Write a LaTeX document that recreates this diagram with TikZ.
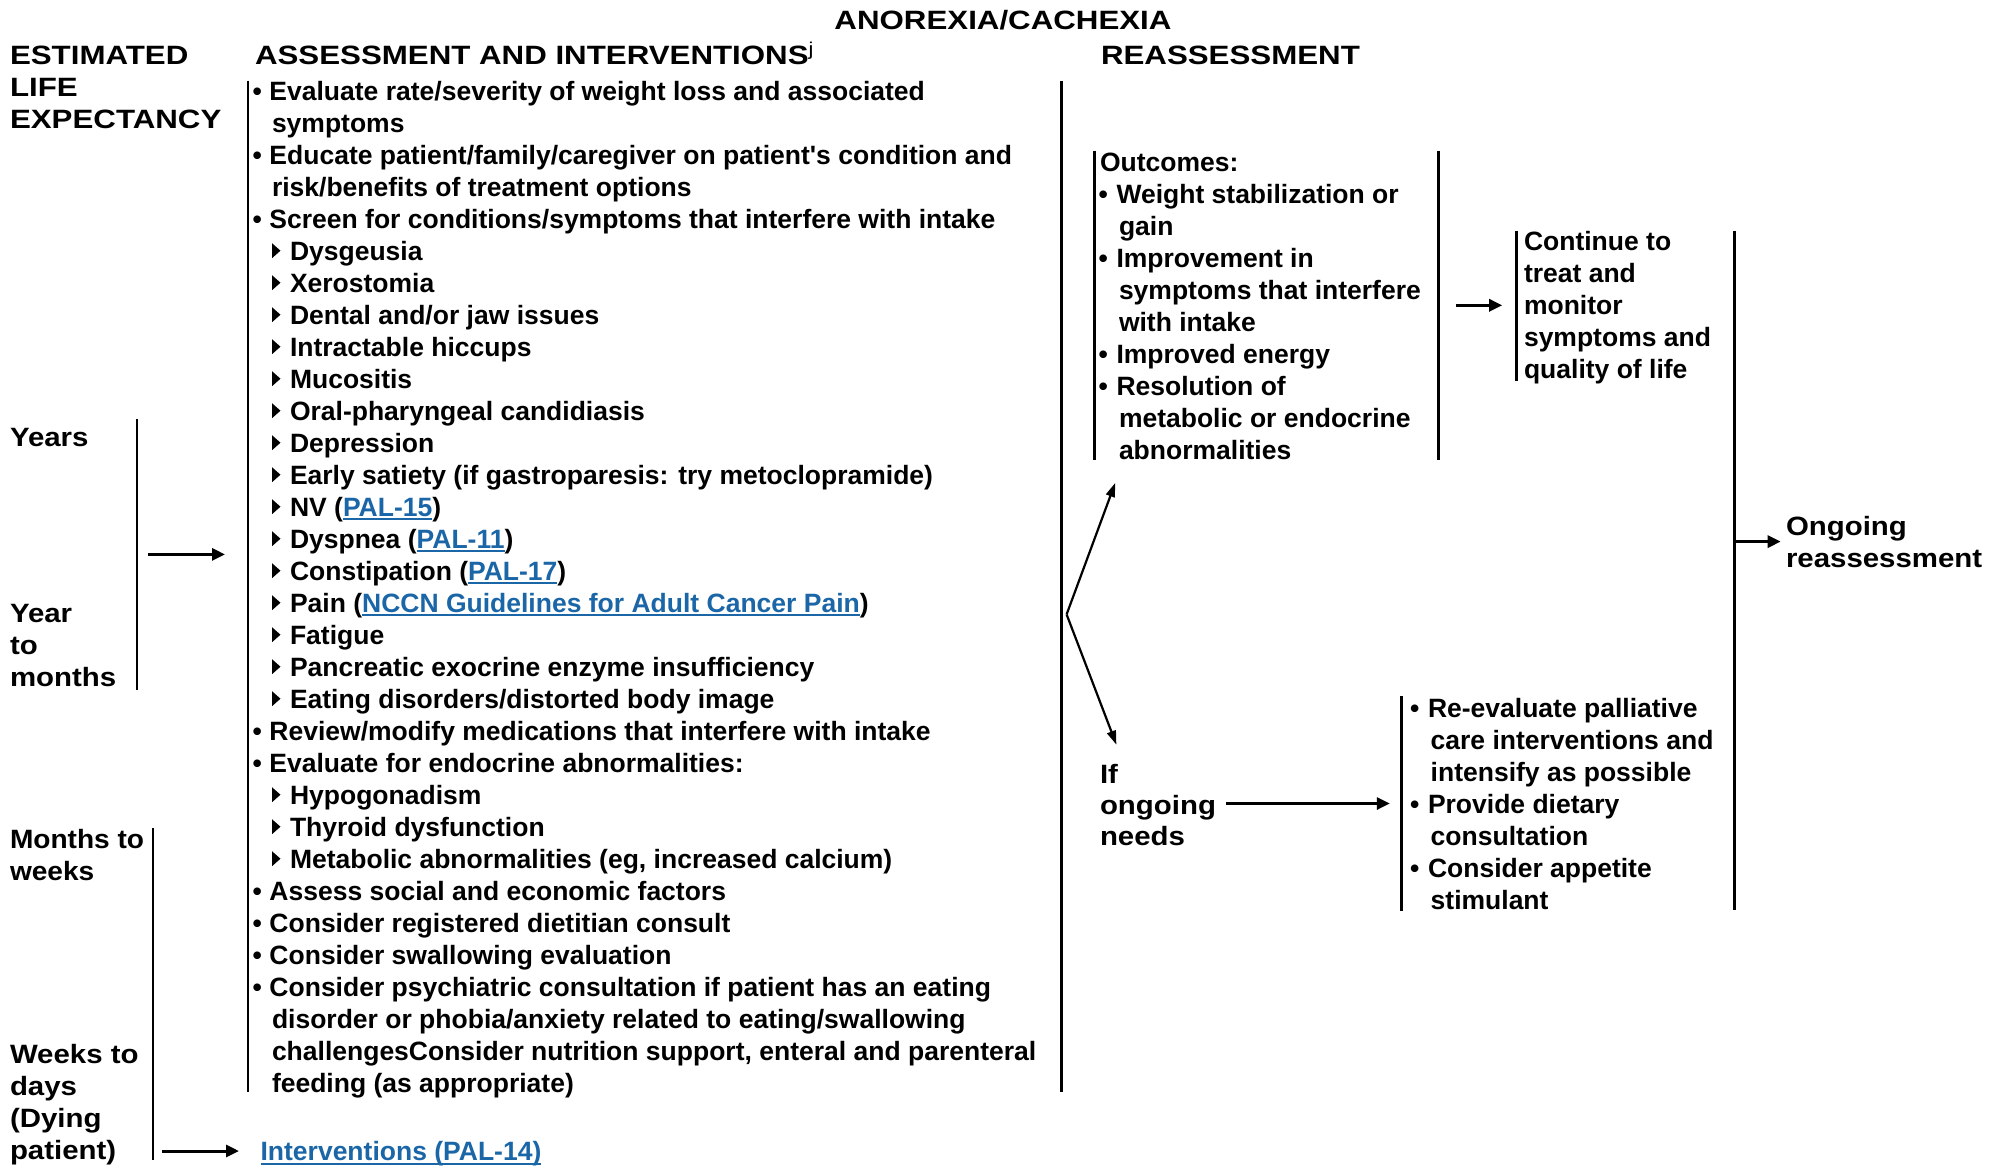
\documentclass[tikz,border=0pt]{standalone}
\usepackage{fontspec}
\setmainfont{Liberation Sans}[Ligatures=TeXOff]
\newfontfamily\hdfont{Liberation Sans}[FakeStretch=1.18]
\newfontfamily\lbfont{Liberation Sans}[FakeStretch=1.11]
\newfontfamily\lbfontn{Liberation Sans}[FakeStretch=1.06]
\usetikzlibrary{arrows.meta}
\definecolor{linkblue}{RGB}{26,102,166}
\newcommand\lnk[1]{{\color{linkblue}\setbox0\hbox{#1}\rlap{\rule[-4pt]{\wd0}{2pt}}\box0}}
\tikzset{
  txt/.style={anchor=base west, inner sep=0pt, outer sep=0pt, font=\fontsize{26.5}{32}\selectfont\bfseries},
  hdr/.style={txt, font=\fontsize{26.5}{32}\selectfont\hdfont\bfseries},
  lbl/.style={txt, font=\fontsize{26.5}{32}\selectfont\lbfont\bfseries},
  lbln/.style={txt, font=\fontsize{26.5}{32}\selectfont\lbfontn\bfseries},
  brk/.style={line width=2.5pt},
  arr/.style={line width=3pt, -{Triangle[length=13pt,width=12pt]}},
  sarr/.style={line width=2.2pt, -{Triangle[length=14pt,width=9pt]}},
}
% middle column lines
\newcommand\Lb[2]{\pgfmathsetmacro\yy{100.2+32*(#1-1)}\node[txt] (m#1) at (252.5,\yy) {\makebox[17pt][l]{•}#2};}
\newcommand\Lc[2]{\pgfmathsetmacro\yy{100.2+32*(#1-1)}\node[txt] (m#1) at (272,\yy) {#2};}
\newcommand\Lt[2]{\pgfmathsetmacro\yy{100.2+32*(#1-1)}\node[txt] (m#1) at (290,\yy) {#2};
  \fill (272,\yy-17) -- (272,\yy-2) -- (280.5,\yy-9.5) -- cycle;}
\newcommand\bul[4]{\node[txt] (#1) at (#2,#3) {\makebox[18pt][l]{•}#4};}
\begin{document}
\begin{tikzpicture}[x=1pt,y=-1pt]
\useasboundingbox (0,0) rectangle (2003,1167);
% title and headers
\node[hdr, anchor=base] (title) at (1003,29) {ANOREXIA/CACHEXIA};
\node[hdr] (h1a) at (10,64.5) {ESTIMATED};
\node[hdr] (h1b) at (10,96.5) {LIFE};
\node[hdr] (h1c) at (10,128.5) {EXPECTANCY};
\node[hdr] (h2) at (255,64.5) {ASSESSMENT AND INTERVENTIONS\textsuperscript{\mdseries j}};
\node[hdr] (h3) at (1101,64.5) {REASSESSMENT};
% life expectancy labels
\node[lbl] (y1) at (10,446.5) {Years};
\node[lbl] (y2) at (10,622.7) {Year};
\node[lbl] (y3) at (10,654.7) {to};
\node[lbl] (y4) at (10,686.7) {months};
\node[lbln] (w1) at (10,848.8) {Months to};
\node[lbln] (w2) at (10,880.8) {weeks};
\node[lbl] (d1) at (10,1063.4) {Weeks to};
\node[lbl] (d2) at (10,1095.4) {days};
\node[lbl] (d3) at (10,1127.4) {(Dying};
\node[lbl] (d4) at (10,1159.4) {patient)};
\draw[brk] (137,419) -- (137,690);
\draw[brk] (153,828) -- (153,1160);
\coordinate (a1s) at (148,554.4); \coordinate (a1e) at (225,554.4);
\draw[arr] (a1s) -- (a1e);
\node[txt] (pal14) at (260.6,1160.5) {\lnk{Interventions (PAL-14)}};
\coordinate (a2s) at (162,1151); \coordinate (a2e) at (239,1151);
\draw[arr] (a2s) -- (a2e);
% assessment and interventions
\draw[brk] (248,80.5) -- (248,1092);
\draw[brk] (1061.5,80.5) -- (1061.5,1092);
\Lb{1}{Evaluate rate/severity of weight loss and associated}
\Lc{2}{symptoms}
\Lb{3}{Educate patient/family/caregiver on patient's condition and}
\Lc{4}{risk/benefits of treatment options}
\Lb{5}{Screen for conditions/symptoms that interfere with intake}
\Lt{6}{Dysgeusia}
\Lt{7}{Xerostomia}
\Lt{8}{Dental and/or jaw issues}
\Lt{9}{Intractable hiccups}
\Lt{10}{Mucositis}
\Lt{11}{Oral-pharyngeal candidiasis}
\Lt{12}{Depression}
\Lt{13}{Early satiety (if gastroparesis: try metoclopramide)}
\Lt{14}{NV (\lnk{PAL-15})}
\Lt{15}{Dyspnea (\lnk{PAL-11})}
\Lt{16}{Constipation (\lnk{PAL-17})}
\Lt{17}{Pain (\lnk{NCCN Guidelines for Adult Cancer Pain})}
\Lt{18}{Fatigue}
\Lt{19}{Pancreatic exocrine enzyme insufficiency}
\Lt{20}{Eating disorders/distorted body image}
\Lb{21}{Review/modify medications that interfere with intake}
\Lb{22}{Evaluate for endocrine abnormalities:}
\Lt{23}{Hypogonadism}
\Lt{24}{Thyroid dysfunction}
\Lt{25}{Metabolic abnormalities (eg, increased calcium)}
\Lb{26}{Assess social and economic factors}
\Lb{27}{Consider registered dietitian consult}
\Lb{28}{Consider swallowing evaluation}
\Lb{29}{Consider psychiatric consultation if patient has an eating}
\Lc{30}{disorder or phobia/anxiety related to eating/swallowing}
\Lc{31}{challengesConsider nutrition support, enteral and parenteral}
\Lc{32}{feeding (as appropriate)}
% split arrows
\coordinate (sp) at (1066.6,614.4);
\coordinate (up) at (1115.2,482.9);
\coordinate (dn) at (1116.4,744.7);
\draw[sarr] (sp) -- (up);
\draw[sarr] (sp) -- (dn);
% outcomes
\draw[brk] (1094.7,150.7) -- (1094.7,460);
\draw[brk] (1438.3,150.7) -- (1438.3,460);
\node[txt] (o1) at (1100,171.7) {Outcomes:};
\bul{o2}{1098.5}{203.7}{Weight stabilization or}
\node[txt] (o3) at (1119,235.7) {gain};
\bul{o4}{1098.5}{267.7}{Improvement in}
\node[txt] (o5) at (1119,299.7) {symptoms that interfere};
\node[txt] (o6) at (1119,331.7) {with intake};
\bul{o7}{1098.5}{363.7}{Improved energy}
\bul{o8}{1098.5}{395.7}{Resolution of}
\node[txt] (o9) at (1119,427.7) {metabolic or endocrine};
\node[txt] (o10) at (1119,459.7) {abnormalities};
\coordinate (a3s) at (1456.2,305.3); \coordinate (a3e) at (1502.2,305.3);
\draw[arr] (a3s) -- (a3e);
% continue
\draw[brk] (1516.3,231.2) -- (1516.3,380.7);
\node[txt] (c1) at (1524,250.9) {Continue to};
\node[txt] (c2) at (1524,282.9) {treat and};
\node[txt] (c3) at (1524,314.9) {monitor};
\node[txt] (c4) at (1524,346.9) {symptoms and};
\node[txt] (c5) at (1524,378.9) {quality of life};
% big right bracket and ongoing
\draw[brk] (1734.7,231.2) -- (1734.7,910);
\coordinate (a4s) at (1734.7,541.6); \coordinate (a4e) at (1780.7,541.6);
\draw[arr] (a4s) -- (a4e);
\node[lbl] (g1) at (1786,535.8) {Ongoing};
\node[lbl] (g2) at (1786,567.8) {reassessment};
% if ongoing needs
\node[lbl] (i1) at (1100,783.6) {If};
\node[lbl] (i2) at (1100,814.3) {ongoing};
\node[lbl] (i3) at (1100,845) {needs};
\coordinate (a5s) at (1226.3,803.5); \coordinate (a5e) at (1389.8,803.5);
\draw[arr] (a5s) -- (a5e);
\draw[brk] (1401.3,696.2) -- (1401.3,910.8);
\bul{r1}{1410}{717.2}{Re-evaluate palliative}
\node[txt] (r2) at (1430.7,749.2) {care interventions and};
\node[txt] (r3) at (1430.7,781.2) {intensify as possible};
\bul{r4}{1410}{813.2}{Provide dietary}
\node[txt] (r5) at (1430.7,845.2) {consultation};
\bul{r6}{1410}{877.2}{Consider appetite}
\node[txt] (r7) at (1430.7,909.2) {stimulant};
\end{tikzpicture}
\end{document}
